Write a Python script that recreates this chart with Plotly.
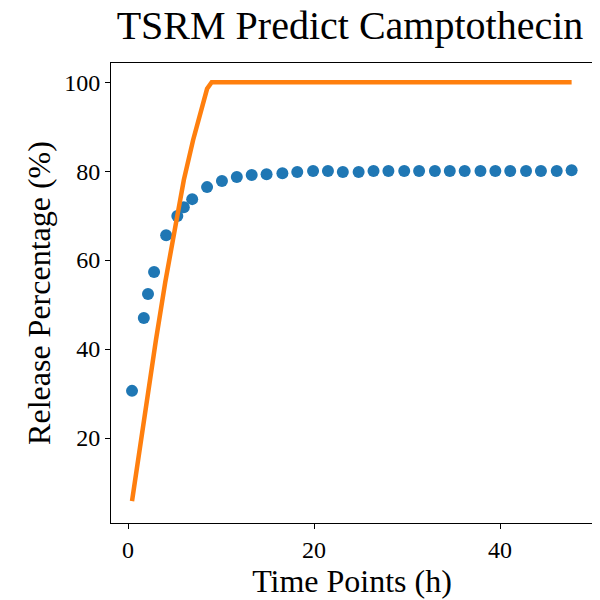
import plotly.graph_objects as go

obs_t = [0.43, 1.7, 2.15, 2.8, 4.1, 5.3, 6.0, 6.9, 8.5, 10.1, 11.7, 13.3, 14.9, 16.6, 18.2, 19.9, 21.5, 23.1, 24.8, 26.4, 28.0, 29.7, 31.3, 33.0, 34.6, 36.2, 37.9, 39.5, 41.1, 42.8, 44.4, 46.1, 47.7]
obs_y = [30.6, 47.0, 52.4, 57.3, 65.6, 69.9, 71.9, 73.7, 76.4, 77.8, 78.7, 79.1, 79.3, 79.5, 79.8, 80.0, 80.0, 79.8, 79.8, 80.0, 80.0, 80.0, 80.0, 80.0, 80.0, 80.0, 80.0, 80.0, 80.0, 80.0, 80.0, 80.0, 80.2]
pred_t = [0.43, 1, 2, 3, 4, 5, 6, 7, 7.5, 8, 8.5, 9, 10, 20, 30, 40, 47.7]
pred_y = [5.8, 14, 28, 42, 55, 67, 78, 87, 91, 95, 98.5, 100, 100, 100, 100, 100, 100]

fig = go.Figure()
fig.add_trace(go.Scatter(x=obs_t, y=obs_y, mode="markers",
                         marker=dict(color="#1f77b4", size=12)))
fig.add_trace(go.Scatter(x=pred_t, y=pred_y, mode="lines",
                         line=dict(color="#ff7f0e", width=4.5)))
ax = dict(showgrid=False, zeroline=False, showline=True, linecolor="black", linewidth=1,
          mirror=True, ticks="outside", ticklen=5, tickcolor="black",
          tickfont=dict(size=24, color="black"))
fig.update_layout(
    width=600, height=600, showlegend=False,
    plot_bgcolor="white", paper_bgcolor="white",
    font=dict(family="Liberation Serif", color="black"),
    margin=dict(l=103, r=15, t=55, b=85),
    title=dict(text="TSRM Predict Camptothecin", x=0.57, xanchor="center", y=0.995, yanchor="top",
               font=dict(size=40)),
    xaxis=dict(ax, range=[-1.83, 50], tickvals=[0, 20, 40],
               title=dict(text="Time Points (h)", font=dict(size=32), standoff=6)),
    yaxis=dict(ax, range=[0.9, 104.3], tickvals=[20, 40, 60, 80, 100],
               title=dict(text="Release Percentage (%)", font=dict(size=32), standoff=4)),
)
fig.write_html("out.html")
